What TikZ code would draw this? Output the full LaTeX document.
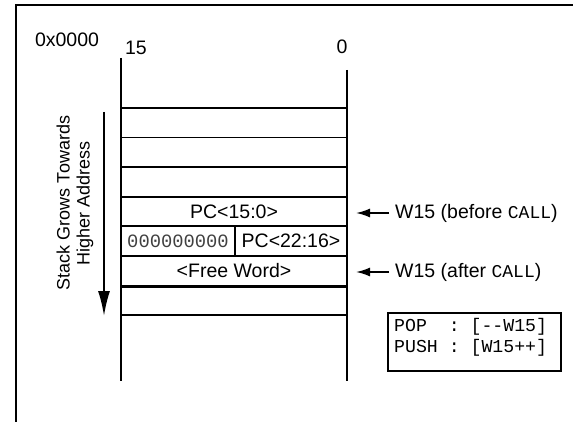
\documentclass[tikz,border=0pt]{standalone}
\usepackage{fontspec}
\setmainfont{Liberation Sans}
\setmonofont{Liberation Mono}
\usetikzlibrary{arrows.meta}
\begin{document}
\begin{tikzpicture}[x=1pt,y=-1pt,
  lbl/.style={inner sep=0pt,font=\fontsize{19.5}{21}\selectfont},
  mono/.style={inner sep=0pt,font=\fontsize{18.2}{20}\ttfamily},
  rowbox/.style={draw,line width=1.8pt,minimum height=29.6pt,inner sep=0pt,font=\fontsize{19.5}{21}\selectfont},
  wline/.style={line width=1.8pt},
  ptr/.style={line width=1.8pt,-{Latex[length=14pt,width=9pt]}}]
\useasboundingbox (0,0) rectangle (573,422);
% frame
\draw[line width=1.8pt] (16,440) -- (16,5) -- (590,5);
% header labels
\node[lbl] (addr) at (67,40) {0x0000};
\node[lbl] (b15) at (136,48) {15};
\node[lbl] (b0) at (342,47) {0};
% verticals
\coordinate (lt) at (121,58); \coordinate (lb) at (121,381);
\coordinate (rt) at (347,70); \coordinate (rb) at (347,381);
\draw[wline] (lt) -- (lb);
\draw[wline] (rt) -- (rb);
% rows
\node[rowbox,minimum width=226pt] (r1) at (234,122.75) {};
\node[rowbox,minimum width=226pt] (r2) at (234,152.35) {};
\node[rowbox,minimum width=226pt] (r3) at (234,181.95) {};
\node[rowbox,minimum width=226pt] (r4) at (234,211.55) {PC<15:0>};
\node[rowbox,minimum width=114pt] (r5a) at (178,241.15) {\fontsize{18.8}{20}\ttfamily\color{black!75}000000000};
\node[rowbox,minimum width=112pt] (r5b) at (291,241.15) {PC<22:16>};
\node[rowbox,minimum width=226pt] (r6) at (234,270.75) {<Free Word>};
\node[rowbox,minimum width=226pt] (r7) at (234,300.35) {};
\draw[line width=2.8pt] (r6.south west) -- (r6.south east);
% growth arrow and label
\coordinate (gs) at (104,112); \coordinate (ge) at (104,316);
\draw[line width=1.8pt,-{Latex[length=25pt,width=12pt]}] (gs) -- (ge);
\node[inner sep=0pt,font=\fontsize{18}{20}\selectfont,rotate=90,align=center] (grow) at (75,203) {Stack Grows Towards\\Higher Address};
% pointers
\node[lbl,anchor=west] (before) at (395,213) {W15 (before {\fontsize{18}{20}\ttfamily CALL})};
\node[lbl,anchor=west] (after) at (395,272) {W15 (after {\fontsize{18}{20}\ttfamily CALL})};
\draw[ptr] (before.west) ++(-6,0) coordinate (bs) -- (356,213) coordinate (be);
\draw[ptr] (after.west) ++(-6,0) coordinate (as) -- (356,272) coordinate (ae);
% legend box
\node[draw,line width=1.8pt,minimum width=173pt,minimum height=58pt,inner sep=0pt] (leg) at (474.5,342) {};
\node[mono,anchor=west] (pop) at (394,327) {POP\ \ : [-{}-W15]};
\node[mono,anchor=west] (push) at (394,348) {PUSH : [W15++]};
\end{tikzpicture}
\end{document}
